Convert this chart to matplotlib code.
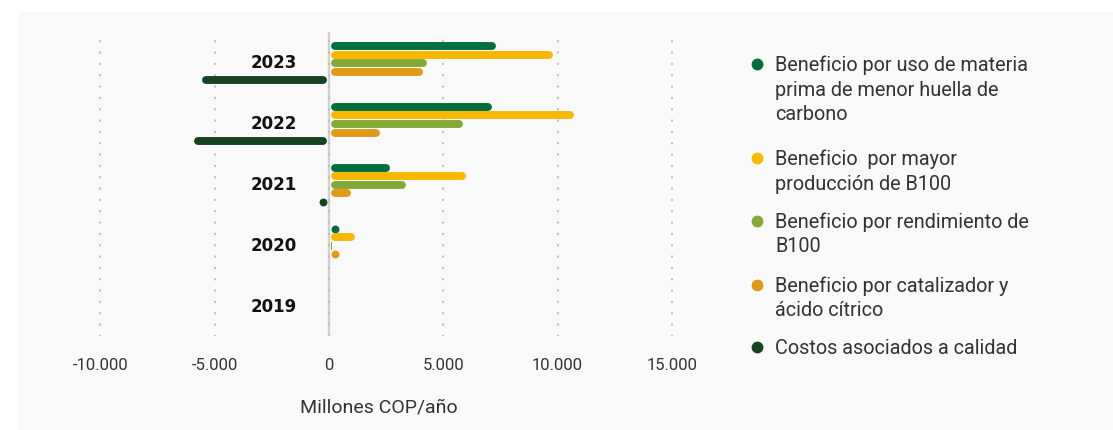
import matplotlib
matplotlib.use('Agg')
import matplotlib.pyplot as plt
import numpy as np
from matplotlib.patches import Rectangle
from matplotlib.lines import Line2D
from matplotlib.ticker import FuncFormatter

# data (Millones COP/año)
years = ['2019', '2020', '2021', '2022', '2023']
series_names = [
    'Beneficio por uso de materia\nprima de menor huella de\ncarbono',
    'Beneficio  por mayor\nproducción de B100',
    'Beneficio por rendimiento de\nB100',
    'Beneficio por catalizador y\nácido cítrico',
    'Costos asociados a calidad',
]
materia_prima = [0, 350, 2680, 7120, 7290]
mayor_produccion = [0, 1140, 5990, 10720, 9790]
rendimiento = [0, 60, 3370, 5870, 4270]
catalizador = [0, 350, 980, 2230, 4100]
costos_calidad = [0, 0, -350, -5890, -5540]
series_values = [materia_prima, mayor_produccion, rendimiento, catalizador, costos_calidad]
colors = ['#006f3c', '#f8b800', '#83aa36', '#e09a16', '#174322']
xticks = [-10000, -5000, 0, 5000, 10000, 15000]

W, H = 1113, 430
FONT = 'Roboto'

fig = plt.figure(figsize=(W / 100, H / 100), dpi=100)
fig.patch.set_facecolor('white')
fig.add_artist(Rectangle((18 / W, 0), (W - 18) / W, (H - 12) / H, transform=fig.transFigure,
                         facecolor='#f9f9f9', edgecolor='none', zorder=-10))

units_per_px = 1000 / 22.86
xmin, xmax = -12650, 17100
ax_w = (xmax - xmin) / units_per_px
ax_left = 329 - (-xmin) / units_per_px
ax = fig.add_axes([ax_left / W, 1 - 336 / H, ax_w / W, 304 / H])
ax.set_facecolor('none')
ax.set_xlim(xmin, xmax)
ax.set_ylim(-0.48, 4.51)

lw_px = 7.9
r = lw_px / 2 * units_per_px
gap = 2 * units_per_px
d = 8.5 / 60.85
ypos = np.arange(len(years))

for i, (vals, color) in enumerate(zip(series_values, colors)):
    off = (2 - i) * d
    for y, v in zip(ypos, vals):
        if v == 0:
            continue
        yy = y + off
        s = np.sign(v)
        if abs(v) < gap + r * 0.5:
            # tiny value: thin sliver
            ax.barh(yy, v, left=s * gap, height=lw_px / 60.85, color=color, zorder=3)
        elif abs(v) < gap + 2 * r:
            # small value: round dot
            ax.plot([s * (gap + r)], [yy], 'o', color=color, markersize=lw_px * 0.72,
                    markeredgewidth=0, zorder=3)
        else:
            ax.plot([s * (gap + r), v - s * r], [yy, yy], color=color, lw=lw_px * 0.72,
                    solid_capstyle='round', zorder=3)

for y, yr in zip(ypos, years):
    ax.text(-1400, y, yr, ha='right', va='center', fontsize=12, fontweight='bold',
            family='DejaVu Sans', color='#111111')

ax.grid(axis='x', color='#bdbdbd', linewidth=1.6, linestyle=(0, (0.1, 5.0)),
        dash_capstyle='round', zorder=0)
ax.axvline(0, color='#d2d2d2', lw=1.7, zorder=1)
ax.set_xticks(xticks)
ax.xaxis.set_major_formatter(FuncFormatter(lambda x, p: f'{int(x):,}'.replace(',', '.')))
ax.set_yticks([])
ax.tick_params(axis='x', length=0, pad=16, labelsize=12, labelcolor='#333333')
for lab in ax.get_xticklabels():
    lab.set_family(FONT)
for sp in ax.spines.values():
    sp.set_visible(False)

fig.text(379 / W, 1 - 408 / H, 'Millones COP/año', ha='center', va='center',
         fontsize=14, family=FONT, color='#333333')

# legend
legend_y = [65, 159, 222, 286, 348]
for name, color, y0 in zip(series_names, colors, legend_y):
    fig.add_artist(Line2D([757 / W], [1 - (y0 - 1) / H], marker='o', markersize=7.5,
                          color=color, transform=fig.transFigure))
    for j, line in enumerate(name.split('\n')):
        fig.text(775 / W, 1 - (y0 + j * 25) / H, line, ha='left', va='center',
                 fontsize=14.3, family=FONT, color='#333333')

fig.savefig('out.png', dpi=100, facecolor=fig.get_facecolor())
